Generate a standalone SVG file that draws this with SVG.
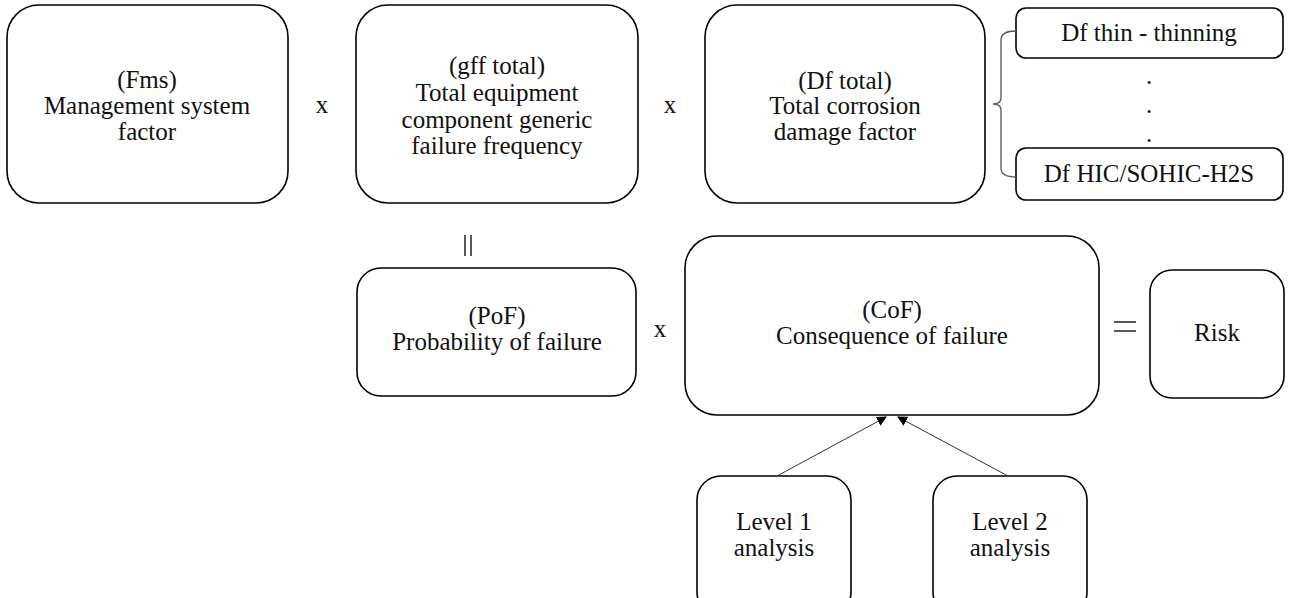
<svg xmlns="http://www.w3.org/2000/svg" width="1291" height="598" viewBox="0 0 1291 598">
<style>
.box{fill:#fff;stroke:#000;stroke-width:1.6}
.eq{stroke:#222;stroke-width:1.5}
.conn{stroke:#333;stroke-width:1;fill:none}
</style>
<defs>
<marker id="ah" markerWidth="10" markerHeight="10" refX="9" refY="5" orient="auto" markerUnits="userSpaceOnUse">
<path d="M0,0 L10,5 L0,10 Z" fill="#000"/>
</marker>
</defs>
<rect width="1291" height="598" fill="#fff"/>
<g fill="#111" font-size="25" text-anchor="middle">
<g id="fms"><rect class="box" x="7" y="5" width="281" height="198" rx="32"/>
<text font-family="Liberation Serif" x="147" y="88">(Fms)</text>
<text font-family="Liberation Serif" x="147" y="114">Management system</text>
<text font-family="Liberation Serif" x="147" y="140">factor</text></g>
<g id="gff"><rect class="box" x="356" y="5" width="282" height="198" rx="32"/>
<text font-family="Liberation Serif" x="497" y="74">(gff total)</text>
<text font-family="Liberation Serif" x="497" y="101">Total equipment</text>
<text font-family="Liberation Serif" x="497" y="128">component generic</text>
<text font-family="Liberation Serif" x="497" y="154">failure frequency</text></g>
<g id="dftotal"><rect class="box" x="705" y="5" width="280" height="198" rx="32"/>
<text font-family="Liberation Serif" x="845" y="89">(Df total)</text>
<text font-family="Liberation Serif" x="845" y="114">Total corrosion</text>
<text font-family="Liberation Serif" x="845" y="140">damage factor</text></g>
<g id="dfthin"><rect class="box" x="1016" y="8" width="267" height="50" rx="10"/>
<text font-family="Liberation Serif" x="1149" y="41">Df thin - thinning</text></g>
<g id="dfhic"><rect class="box" x="1016" y="148" width="267" height="52" rx="10"/>
<text font-family="Liberation Serif" x="1149" y="182">Df HIC/SOHIC-H2S</text></g>
<g id="dots">
<text font-family="Liberation Serif" x="1149" y="84">.</text>
<text font-family="Liberation Serif" x="1149" y="113">.</text>
<text font-family="Liberation Serif" x="1149" y="142">.</text></g>
<g id="pof"><rect class="box" x="357" y="268" width="279" height="128" rx="24"/>
<text font-family="Liberation Serif" x="497" y="324">(PoF)</text>
<text font-family="Liberation Serif" x="497" y="350">Probability of failure</text></g>
<g id="cof"><rect class="box" x="685" y="236" width="414" height="179" rx="32"/>
<text font-family="Liberation Serif" x="892" y="318">(CoF)</text>
<text font-family="Liberation Serif" x="892" y="344">Consequence of failure</text></g>
<g id="risk"><rect class="box" x="1150" y="270" width="134" height="128" rx="22"/>
<text font-family="Liberation Serif" x="1217" y="341">Risk</text></g>
<g id="level1"><rect class="box" x="697" y="476" width="154" height="140" rx="24"/>
<text font-family="Liberation Serif" x="774" y="530">Level 1</text>
<text font-family="Liberation Serif" x="774" y="556">analysis</text></g>
<g id="level2"><rect class="box" x="933" y="476" width="154" height="140" rx="24"/>
<text font-family="Liberation Serif" x="1010" y="530">Level 2</text>
<text font-family="Liberation Serif" x="1010" y="556">analysis</text></g>
<g id="operators">
<text font-family="Liberation Serif" x="322" y="113">x</text>
<text font-family="Liberation Serif" x="670" y="113">x</text>
<text font-family="Liberation Serif" x="660" y="337">x</text>
<line class="eq" x1="465" y1="235" x2="465" y2="256"/>
<line class="eq" x1="471" y1="235" x2="471" y2="256"/>
<line class="eq" x1="1114" y1="322" x2="1136" y2="322"/>
<line class="eq" x1="1114" y1="331" x2="1136" y2="331"/>
</g>
</g>
<g id="connectors">
<path d="M1016,31 Q1001,31 1001,40 L1001,98 Q1001,104 993,104 Q1001,104 1001,110 L1001,168 Q1001,177 1016,177" stroke="#555" stroke-width="1.3" fill="none"/>
<line class="conn" x1="777" y1="476" x2="886" y2="417" marker-end="url(#ah)"/>
<line class="conn" x1="1008" y1="476" x2="898" y2="417" marker-end="url(#ah)"/>
</g>
</svg>
